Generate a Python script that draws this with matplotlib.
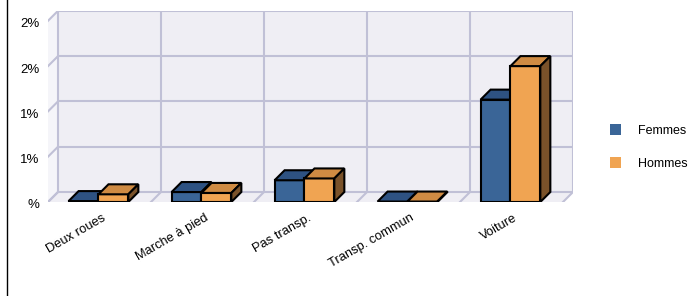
import matplotlib
matplotlib.use('Agg')
import matplotlib.pyplot as plt
import matplotlib.transforms as mtransforms
from matplotlib.patches import Polygon, Patch
from matplotlib.lines import Line2D

# ---- data ----
categories = ['Deux roues', 'Marche à pied', 'Pas transp.', 'Transp. commun', 'Voiture']
femmes = [0.01, 0.11, 0.24, 0.005, 1.13]
hommes = [0.085, 0.10, 0.26, 0.005, 1.50]
series_names = ['Femmes', 'Hommes']
ytick_values = [0, 0.5, 1.0, 1.5, 2.0]
ytick_labels = ['%', '1%', '1%', '2%', '2%']

plt.rcParams['font.family'] = ['Liberation Sans', 'DejaVu Sans']

W, H = 689, 296
fig = plt.figure(figsize=(W / 100, H / 100), dpi=100)

px_per_cat = 103.0
px_per_pct = 90.6
depth = 10.0
dxd = depth / px_per_cat
dyd = depth / px_per_pct
n = len(categories)
ymax = ytick_values[-1]

left_px, front_px = 48, 202
ax_w = n * px_per_cat + depth
ax_h = ymax * px_per_pct + depth
ax = fig.add_axes([left_px / W, (H - front_px) / H, ax_w / W, ax_h / H])
ax.set_xlim(-0.5, n - 0.5 + dxd)
ax.set_ylim(0, ymax + dyd)
ax.patch.set_visible(False)
for s in ax.spines.values():
    s.set_visible(False)

wall_c = '#efeef4'
grid_c = '#c0c0d6'
glw = 1.5
x0w, x1w = -0.5, n - 0.5

# back wall
ax.add_patch(Polygon([(x0w + dxd, dyd), (x1w + dxd, dyd), (x1w + dxd, ymax + dyd), (x0w + dxd, ymax + dyd)],
                     closed=True, facecolor=wall_c, edgecolor='none', zorder=0))
# floor
ax.add_patch(Polygon([(x0w, 0), (x1w, 0), (x1w + dxd, dyd), (x0w + dxd, dyd)],
                     closed=True, facecolor=wall_c, edgecolor='none', zorder=0))
# left wall
ax.add_patch(Polygon([(x0w, 0), (x0w + dxd, dyd), (x0w + dxd, ymax + dyd), (x0w, ymax)],
                     closed=True, facecolor='#f5f5f9', edgecolor='none', zorder=0))

# horizontal gridlines on back wall + slants on left wall
for v in ytick_values:
    ax.plot([x0w + dxd, x1w + dxd], [v + dyd, v + dyd], color=grid_c, lw=glw, zorder=1,
            solid_capstyle='butt')
    ax.plot([x0w, x0w + dxd], [v, v + dyd], color=grid_c, lw=glw, zorder=1)
# vertical gridlines on back wall + slants on floor
for b in [x0w + i for i in range(n + 1)]:
    ax.plot([b + dxd, b + dxd], [dyd, ymax + dyd], color=grid_c, lw=glw, zorder=1,
            solid_capstyle='butt')
    ax.plot([b, b + dxd], [0, dyd], color=grid_c, lw=glw, zorder=1)

# bars
bw = 0.29
styles = [
    dict(front='#3a6597', top='#2e5282', side='#243f63'),
    dict(front='#f0a452', top='#cf8b43', side='#7a522a'),
]
series = [femmes, hommes]
elw = 1.5
for i in range(n):
    for k, vals in enumerate(series):
        st = styles[k]
        h = vals[i]
        xl = i - bw + k * bw - 0.01
        xr = xl + bw
        z = 3 + k
        ax.bar(xl, h, width=bw, align='edge', color=st['front'], edgecolor='black',
               linewidth=elw, zorder=z)
        ax.add_patch(Polygon([(xl, h), (xr, h), (xr + dxd, h + dyd), (xl + dxd, h + dyd)],
                             closed=True, facecolor=st['top'], edgecolor='black',
                             linewidth=elw, zorder=z, joinstyle='miter'))
        ax.add_patch(Polygon([(xr, 0), (xr + dxd, dyd), (xr + dxd, h + dyd), (xr, h)],
                             closed=True, facecolor=st['side'], edgecolor='black',
                             linewidth=elw, zorder=z, joinstyle='miter'))

ax.set_xticks(range(n))
ax.set_xticklabels(categories, rotation=30, ha='right', rotation_mode='anchor', fontsize=9.3)
ax.set_yticks(ytick_values)
ax.set_yticklabels(ytick_labels, fontsize=9.5)
ax.tick_params(axis='both', length=0)
ax.tick_params(axis='y', pad=6)
ax.tick_params(axis='x', pad=7)
xoff = mtransforms.ScaledTranslation(2 / 100, 0, fig.dpi_scale_trans)
for lab in ax.get_xticklabels():
    lab.set_transform(lab.get_transform() + xoff)
yoff = mtransforms.ScaledTranslation(0, -2 / 100, fig.dpi_scale_trans)
for lab in ax.get_yticklabels():
    lab.set_transform(lab.get_transform() + yoff)

# legend
handles = [Patch(facecolor=styles[0]['front'], edgecolor='none'),
           Patch(facecolor=styles[1]['front'], edgecolor='none')]
fig.legend(handles, series_names, loc='center left', bbox_to_anchor=(609.5 / W, 1 - 147 / H),
           frameon=False, fontsize=9, handlelength=0.95, handleheight=0.95,
           handletextpad=1.35, labelspacing=1.6, borderpad=0, borderaxespad=0)

# left border line
fig.add_artist(Line2D([7 / W, 7 / W], [0, 1], color='black', lw=1.0, transform=fig.transFigure))

fig.savefig('out.png', dpi=100)
